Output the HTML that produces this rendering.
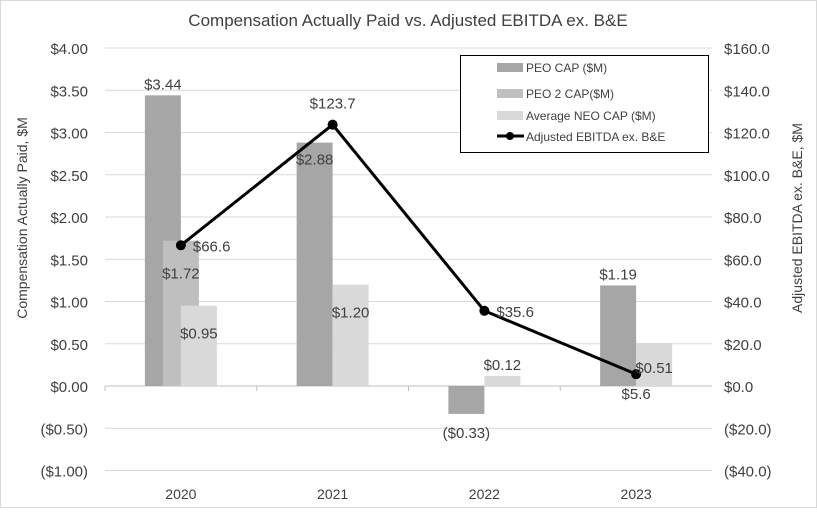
<!DOCTYPE html>
<html><head><meta charset="utf-8"><style>
html,body{margin:0;padding:0;background:#fff;}
svg text{font-family:"Liberation Sans Narrow","Liberation Sans",sans-serif;fill:#404040;}
</style></head><body>
<svg id="chart" width="817" height="508" xmlns="http://www.w3.org/2000/svg">
<rect x="0.5" y="0.5" width="816" height="507" fill="#fff" stroke="#d9d9d9"/>
<text x="408" y="26" text-anchor="middle" font-size="17">Compensation Actually Paid vs. Adjusted EBITDA ex. B&amp;E</text>
<g id="grid"></g><g id="bars"></g><g id="line"></g><g id="labels"></g>
<text transform="translate(27,218) rotate(-90)" text-anchor="middle" font-size="14">Compensation Actually Paid, $M</text>
<text transform="translate(802,218) rotate(-90)" text-anchor="middle" font-size="14">Adjusted EBITDA ex. B&amp;E, $M</text>
<g>
<rect x="460.5" y="55.5" width="248" height="97" fill="#fff" stroke="#000"/>
<rect x="497" y="63" width="26" height="9" fill="#a6a6a6"/>
<text x="526" y="72" font-size="12">PEO CAP ($M)</text>
<rect x="497" y="89" width="26" height="9" fill="#bfbfbf"/>
<text x="526" y="98" font-size="12">PEO 2 CAP($M)</text>
<rect x="497" y="111" width="26" height="9" fill="#d9d9d9"/>
<text x="526" y="120" font-size="12">Average NEO CAP ($M)</text>
<line x1="497" y1="136" x2="524" y2="136" stroke="#000" stroke-width="3"/>
<circle cx="510" cy="136" r="4" fill="#000"/>
<text x="526" y="141" font-size="12">Adjusted EBITDA ex. B&amp;E</text>
</g>
</svg>
<script>
const categories=["2020","2021","2022","2023"];
const peo=[3.44,2.88,-0.33,1.19];
const peo2=[1.72,null,null,null];
const neo=[0.95,1.20,0.12,0.51];
const ebitda=[66.6,123.7,35.6,5.6];
const leftTicks=[4,3.5,3,2.5,2,1.5,1,0.5,0,-0.5,-1];
const rightTicks=[160,140,120,100,80,60,40,20,0,-20,-40];
const NS="http://www.w3.org/2000/svg";
const X0=105,X1=712;
const yL=v=>386-v*84.5;
const yR=v=>386-v*2.1125;
const xC=i=>X0+(X1-X0)/categories.length*(i+0.5);
function mk(p,tag,a){const e=document.createElementNS(NS,tag);for(const k in a)e.setAttribute(k,a[k]);document.getElementById(p).appendChild(e);return e;}
const fmtL=v=>v<0?"($"+(-v).toFixed(2)+")":"$"+v.toFixed(2);
const fmtR=v=>v<0?"($"+(-v).toFixed(1)+")":"$"+v.toFixed(1);
leftTicks.forEach((v,i)=>{
 if(v!==0){const g=mk("grid","line",{x1:X0,x2:X1,y1:yL(v),y2:yL(v),stroke:"#d9d9d9","stroke-width":1});
 
 }
 const t=mk("grid","text",{x:88,y:yL(v)+6,"text-anchor":"end","font-size":"15"});t.textContent=fmtL(v);
 
 
});
rightTicks.forEach(v=>{
 const t=mk("grid","text",{x:724,y:yR(v)+6,"font-size":"15"});t.textContent=fmtR(v);
 
 
});
const ax=mk("grid","line",{x1:X0,x2:X1,y1:386,y2:386,stroke:"#bfbfbf"});


categories.forEach((c,i)=>{
 const t=mk("grid","text",{x:xC(i),y:499,"text-anchor":"middle","font-size":"14"});t.textContent=c;
 
 
 const tk=mk("grid","line",{x1:X0+(X1-X0)/4*i,x2:X0+(X1-X0)/4*i,y1:386,y2:391,stroke:"#bfbfbf"});
 
 
});
const series=[[peo,-18,"#a6a6a6","peo"],[peo2,0,"#bfbfbf","peo2"],[neo,18,"#d9d9d9","neo"]];
const BW=36;
series.forEach(([arr,off,col,nm])=>{
 arr.forEach((v,i)=>{
  if(v===null)return;
  const cx=xC(i)+off,y=Math.min(yL(v),yL(0)),h=Math.abs(yL(v)-yL(0));
  const r=mk("bars","rect",{x:cx-BW/2,y:y,width:BW,height:h,fill:col});
  
  
 });
});
// bar value labels
const lab=(x,y,s,nm)=>{const t=mk("labels","text",{x:x,y:y,"text-anchor":"middle","font-size":"15"});t.textContent=s;
 
 };
peo.forEach((v,i)=>{
 const cx=xC(i)-18;
 if(i===1) lab(cx,yL(v)+22,fmtL(v),'peo-value-label');
 else if(v<0) lab(cx,yL(v)+24,fmtL(v),'peo-value-label');
 else lab(cx,yL(v)-6,fmtL(v),'peo-value-label');
});
peo2.forEach((v,i)=>{if(v!==null)lab(xC(i),yL(v)+38,fmtL(v),'peo2-value-label');});
neo.forEach((v,i)=>{
 const cx=xC(i)+18;
 if(i===2) lab(cx,yL(v)-6,fmtL(v),'neo-value-label');
 else if(i===3) lab(cx,yL(v)+30,fmtL(v),'neo-value-label');
 else lab(cx,yL(v)+33,fmtL(v),'neo-value-label');
});
const pts=ebitda.map((v,i)=>[xC(i),yR(v)]);
const pl=mk("line","polyline",{points:pts.map(p=>p.join(",")).join(" "),fill:"none",stroke:"#000","stroke-width":3,"stroke-linejoin":"round"});


pts.forEach((p,i)=>{
 const c=mk("line","circle",{cx:p[0],cy:p[1],r:5,fill:"#000"});
 
 
 let tx=p[0],ty=p[1],an="middle";
 if(i===0||i===2){tx=p[0]+12;ty=p[1]+6;an="start";}
 else if(i===1){ty=p[1]-16;}
 else {ty=p[1]+25;}
 const t=mk("labels","text",{x:tx,y:ty,"text-anchor":an,"font-size":"15"});t.textContent=fmtR(ebitda[i]);
 
 
});
</script>
</body></html>
